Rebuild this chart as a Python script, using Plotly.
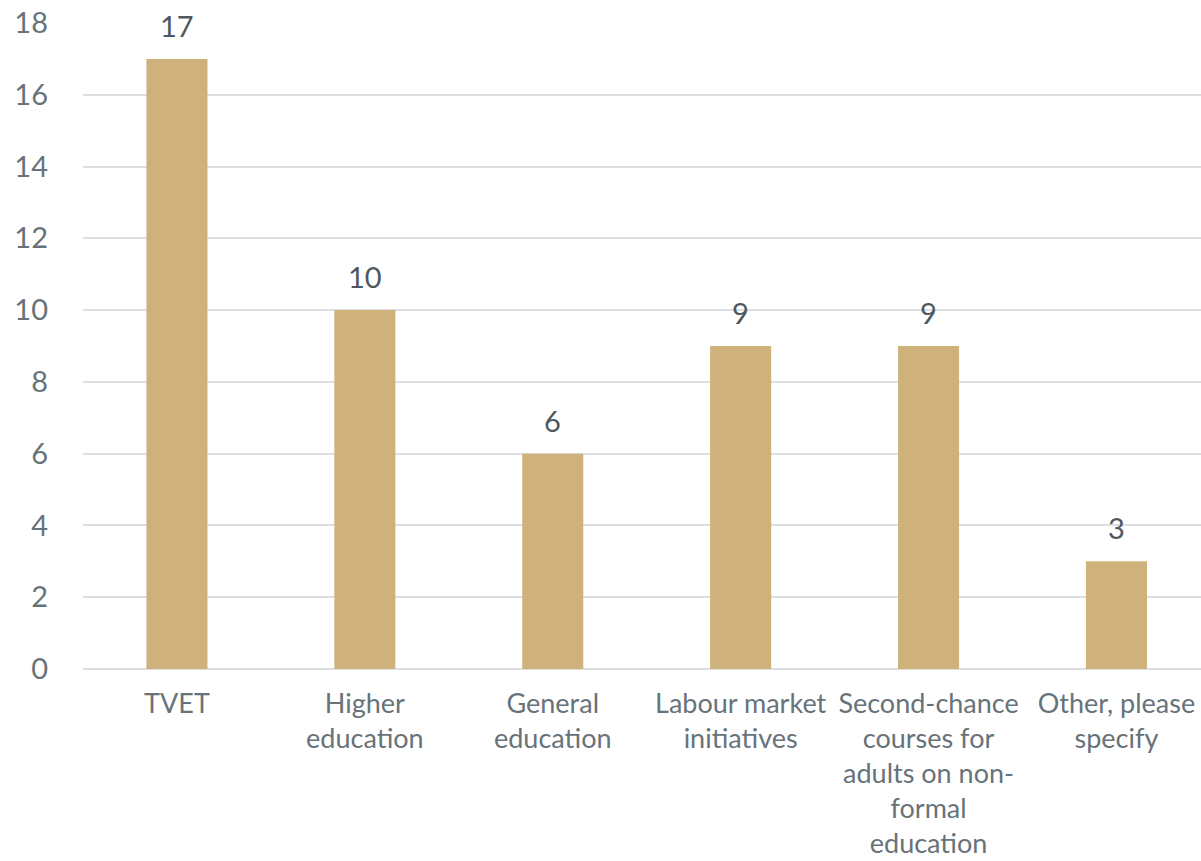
import plotly.graph_objects as go

categories = [
    "TVET",
    "Higher<br>education",
    "General<br>education",
    "Labour market<br>initiatives",
    "Second-chance<br>courses for<br>adults on non-<br>formal<br>education",
    "Other, please<br>specify",
]
values = [17, 10, 6, 9, 9, 3]
y_ticks = [0, 2, 4, 6, 8, 10, 12, 14, 16, 18]

BAR_COLOR = "#CFB27B"
AXIS_TEXT = "#67737A"
LABEL_TEXT = "#4F585E"
GRID = "#DCDFE2"
FONT = "Lato"

fig = go.Figure(
    go.Bar(
        x=categories,
        y=values,
        marker=dict(color=BAR_COLOR, line=dict(width=0)),
        width=0.325,
        hoverinfo="skip",
    )
)

# value labels above each bar
for cat, val in zip(categories, values):
    fig.add_annotation(
        x=cat, y=val, text=str(val), showarrow=False,
        yanchor="bottom", yshift=14,
        font=dict(family=FONT, size=29, color=LABEL_TEXT),
    )

fig.update_layout(
    width=1201, height=861,
    margin=dict(l=83, r=0, t=23, b=192),
    plot_bgcolor="white", paper_bgcolor="white",
    showlegend=False,
    font=dict(family=FONT, color=AXIS_TEXT),
)
fig.update_xaxes(
    range=[-0.5, 5.45],
    showgrid=False, showline=False, zeroline=False,
    tickfont=dict(family=FONT, size=27, color=AXIS_TEXT),
    ticklabelstandoff=16,
)
fig.update_yaxes(
    range=[0, 18], tickvals=y_ticks,
    showgrid=True, gridcolor=GRID, gridwidth=2,
    zeroline=True, zerolinecolor=GRID, zerolinewidth=2,
    showline=False,
    tickfont=dict(family=FONT, size=29, color=AXIS_TEXT),
    ticklabelstandoff=34,
)

fig.write_html("out.html")
